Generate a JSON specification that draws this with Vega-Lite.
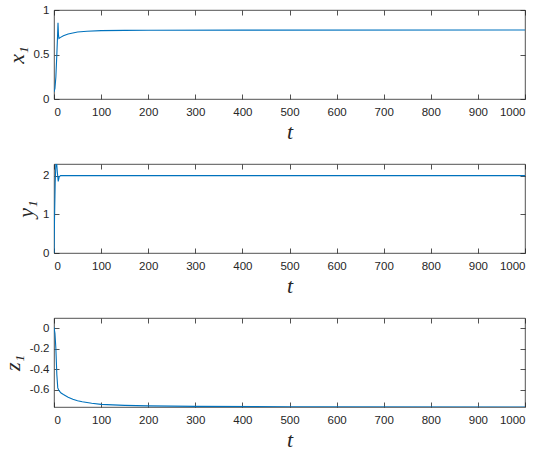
{
  "$schema": "https://vega.github.io/schema/vega-lite/v6.json",
  "padding": {"left": 0, "top": 3, "right": 20, "bottom": 5},
  "bounds": "flush",
  "spacing": 65,
  "background": "white",
  "datasets": {
    "xs": [
      {"t": 0, "v": 0.08}, {"t": 2, "v": 0.12}, {"t": 4, "v": 0.25}, {"t": 6, "v": 0.5},
      {"t": 7.5, "v": 0.7}, {"t": 8.5, "v": 0.857}, {"t": 9.5, "v": 0.72}, {"t": 10.5, "v": 0.68},
      {"t": 13, "v": 0.69}, {"t": 20, "v": 0.71}, {"t": 30, "v": 0.73}, {"t": 40, "v": 0.742},
      {"t": 50, "v": 0.752}, {"t": 70, "v": 0.762}, {"t": 100, "v": 0.768}, {"t": 150, "v": 0.771},
      {"t": 200, "v": 0.773}, {"t": 400, "v": 0.774}, {"t": 1000, "v": 0.775}
    ],
    "ys": [
      {"t": 0, "v": 0}, {"t": 1, "v": 0.8}, {"t": 2.5, "v": 1.8}, {"t": 4, "v": 2.3},
      {"t": 5.5, "v": 2.35}, {"t": 7, "v": 2.1}, {"t": 9, "v": 1.85}, {"t": 11, "v": 1.97},
      {"t": 14, "v": 2.0}, {"t": 100, "v": 2.0}, {"t": 1000, "v": 2.0}
    ],
    "zs": [
      {"t": 0, "v": 0.01}, {"t": 2, "v": -0.05}, {"t": 4, "v": -0.2}, {"t": 6, "v": -0.45},
      {"t": 8, "v": -0.58}, {"t": 10, "v": -0.6}, {"t": 12, "v": -0.615}, {"t": 15, "v": -0.63},
      {"t": 20, "v": -0.645}, {"t": 30, "v": -0.67}, {"t": 40, "v": -0.69}, {"t": 50, "v": -0.705},
      {"t": 60, "v": -0.715}, {"t": 80, "v": -0.73}, {"t": 100, "v": -0.74}, {"t": 150, "v": -0.75},
      {"t": 200, "v": -0.755}, {"t": 300, "v": -0.76}, {"t": 500, "v": -0.764}, {"t": 1000, "v": -0.766}
    ]
  },
  "config": {
    "view": {"stroke": "#262626", "strokeWidth": 0.8},
    "axis": {
      "domain": false,
      "grid": false,
      "tickSize": -5,
      "tickColor": "#262626",
      "tickWidth": 0.8,
      "labelFont": "Liberation Sans",
      "labelFontSize": 11.5,
      "labelColor": "#262626",
      "titleFont": "Liberation Serif",
      "titleFontStyle": "italic",
      "titleFontWeight": "normal",
      "titleFontSize": 22,
      "titleColor": "#262626"
    }
  },
  "vconcat": [
    {
      "width": 471, "height": 89,
      "data": {"name": "xs"},
      "resolve": {"axis": {"x": "independent", "y": "independent"}},
      "layer": [
        {
          "mark": {"type": "line", "color": "#0072BD", "strokeWidth": 1.1, "clip": true},
          "encoding": {
            "x": {"field": "t", "type": "quantitative", "scale": {"domain": [0, 1000], "nice": false},
                  "axis": {"orient": "bottom", "values": [0,100,200,300,400,500,600,700,800,900,1000], "format": "d", "title": "t", "labelPadding": 12, "titlePadding": 4}},
            "y": {"field": "v", "type": "quantitative", "scale": {"domain": [0, 1], "nice": false, "zero": false},
                  "axis": {"orient": "left", "values": [0, 0.5, 1], "format": "~g", "title": "x₁", "labelPadding": 10, "titlePadding": 5}}
          }
        },
        {
          "mark": {"type": "line", "opacity": 0},
          "encoding": {
            "x": {"field": "t", "type": "quantitative", "axis": {"orient": "top", "values": [0,100,200,300,400,500,600,700,800,900,1000], "labels": false, "title": null}},
            "y": {"field": "v", "type": "quantitative", "axis": {"orient": "right", "values": [0, 0.5, 1], "labels": false, "title": null}}
          }
        }
      ]
    },
    {
      "width": 471, "height": 89,
      "data": {"name": "ys"},
      "resolve": {"axis": {"x": "independent", "y": "independent"}},
      "layer": [
        {
          "mark": {"type": "line", "color": "#0072BD", "strokeWidth": 1.1, "clip": true},
          "encoding": {
            "x": {"field": "t", "type": "quantitative", "scale": {"domain": [0, 1000], "nice": false},
                  "axis": {"orient": "bottom", "values": [0,100,200,300,400,500,600,700,800,900,1000], "format": "d", "title": "t", "labelPadding": 12, "titlePadding": 4}},
            "y": {"field": "v", "type": "quantitative", "scale": {"domain": [0, 2.3], "nice": false, "zero": false},
                  "axis": {"orient": "left", "values": [0, 1, 2], "format": "~g", "title": "y₁", "labelPadding": 10, "titlePadding": 5}}
          }
        },
        {
          "mark": {"type": "line", "opacity": 0},
          "encoding": {
            "x": {"field": "t", "type": "quantitative", "axis": {"orient": "top", "values": [0,100,200,300,400,500,600,700,800,900,1000], "labels": false, "title": null}},
            "y": {"field": "v", "type": "quantitative", "axis": {"orient": "right", "values": [0, 1, 2], "labels": false, "title": null}}
          }
        }
      ]
    },
    {
      "width": 471, "height": 89,
      "data": {"name": "zs"},
      "resolve": {"axis": {"x": "independent", "y": "independent"}},
      "layer": [
        {
          "mark": {"type": "line", "color": "#0072BD", "strokeWidth": 1.1, "clip": true},
          "encoding": {
            "x": {"field": "t", "type": "quantitative", "scale": {"domain": [0, 1000], "nice": false},
                  "axis": {"orient": "bottom", "values": [0,100,200,300,400,500,600,700,800,900,1000], "format": "d", "title": "t", "labelPadding": 12, "titlePadding": 4}},
            "y": {"field": "v", "type": "quantitative", "scale": {"domain": [-0.766, 0.1], "nice": false, "zero": false},
                  "axis": {"orient": "left", "values": [0, -0.2, -0.4, -0.6], "format": "~g", "labelExpr": "replace(datum.label, '−', '-')", "title": "z₁", "labelPadding": 10, "titlePadding": 5}}
          }
        },
        {
          "mark": {"type": "line", "opacity": 0},
          "encoding": {
            "x": {"field": "t", "type": "quantitative", "axis": {"orient": "top", "values": [0,100,200,300,400,500,600,700,800,900,1000], "labels": false, "title": null}},
            "y": {"field": "v", "type": "quantitative", "axis": {"orient": "right", "values": [0, -0.2, -0.4, -0.6], "labels": false, "title": null}}
          }
        }
      ]
    }
  ]
}
